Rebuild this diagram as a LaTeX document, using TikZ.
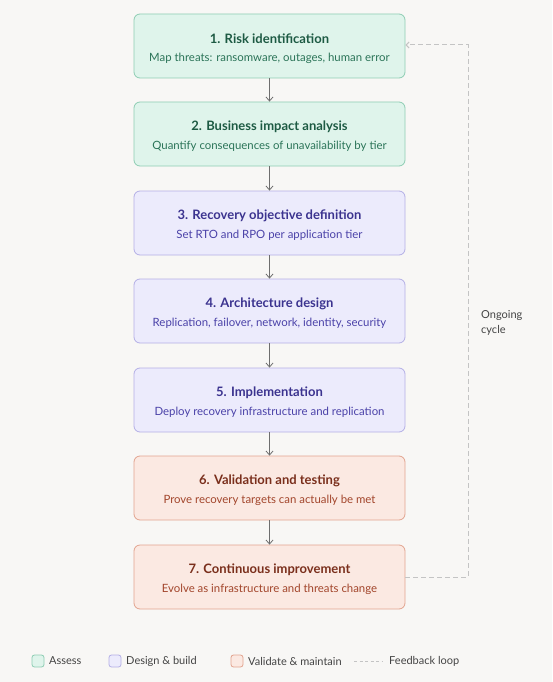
\documentclass[tikz,border=0pt]{standalone}
\usepackage{fontspec}
\setmainfont{Lato}
\usetikzlibrary{arrows.meta}
\definecolor{bg}{HTML}{F8F7F5}
\definecolor{gfill}{HTML}{DFF4EB}
\definecolor{gdraw}{HTML}{8ECDB3}
\definecolor{gtitle}{HTML}{1D5A43}
\definecolor{gsub}{HTML}{2B7458}
\definecolor{pfill}{HTML}{ECEBFC}
\definecolor{pdraw}{HTML}{B4AFE6}
\definecolor{ptitle}{HTML}{3B338F}
\definecolor{psub}{HTML}{4A41A8}
\definecolor{ofill}{HTML}{FBE9E2}
\definecolor{odraw}{HTML}{E2A48F}
\definecolor{otitle}{HTML}{7A2F1C}
\definecolor{osub}{HTML}{A2452B}
\definecolor{arr}{HTML}{6E6E6E}
\definecolor{loop}{HTML}{C4C4C4}
\definecolor{lbl}{HTML}{444444}
\tikzset{
  stepbox/.style={draw, line width=0.8pt, rounded corners=6pt, minimum width=271pt, minimum height=64pt, inner sep=0pt},
  gbox/.style={stepbox, fill=gfill, draw=gdraw},
  pbox/.style={stepbox, fill=pfill, draw=pdraw},
  obox/.style={stepbox, fill=ofill, draw=odraw},
  flow/.style={draw=arr, line width=0.8pt, -{Straight Barb[length=4pt,width=7pt]}},
  fb/.style={draw=loop, line width=1pt, dash pattern=on 5pt off 3pt},
  ttl/.style={font=\fontsize{13}{15}\selectfont\bfseries, inner sep=0pt},
  sub/.style={font=\fontsize{11.4}{13}\selectfont, inner sep=0pt},
  legsq/.style={draw, line width=0.8pt, rounded corners=2.5pt, minimum width=12pt, minimum height=12pt, inner sep=0pt},
  legtxt/.style={font=\fontsize{11}{13}\selectfont, text=lbl, anchor=west, inner sep=0pt}
}
\newcommand{\mkstep}[7]{%
  \node[#3] (#1) at (269.5,#2) {};
  \node[ttl, text=#6] (#1t) at (269.5,#2-7) {#4};
  \node[sub, text=#7] (#1s) at (269.5,#2+12) {#5};
}
\begin{document}
\begin{tikzpicture}[x=1pt,y=-1pt]
\fill[bg] (0,0) rectangle (552,682);
\useasboundingbox (0,0) rectangle (552,682);
\mkstep{s1}{46}{gbox}{1. Risk identification}{Map threats: ransomware, outages, human error}{gtitle}{gsub}
\mkstep{s2}{134}{gbox}{2. Business impact analysis}{Quantify consequences of unavailability by tier}{gtitle}{gsub}
\mkstep{s3}{223}{pbox}{3. Recovery objective definition}{Set RTO and RPO per application tier}{ptitle}{psub}
\mkstep{s4}{311}{pbox}{4. Architecture design}{Replication, failover, network, identity, security}{ptitle}{psub}
\mkstep{s5}{400}{pbox}{5. Implementation}{Deploy recovery infrastructure and replication}{ptitle}{psub}
\mkstep{s6}{488}{obox}{6. Validation and testing}{Prove recovery targets can actually be met}{otitle}{osub}
\mkstep{s7}{577}{obox}{7. Continuous improvement}{Evolve as infrastructure and threats change}{otitle}{osub}
\draw[flow] (s1) -- (s2);
\draw[flow] (s2) -- (s3);
\draw[flow] (s3) -- (s4);
\draw[flow] (s4) -- (s5);
\draw[flow] (s5) -- (s6);
\draw[flow] (s6) -- (s7);
\coordinate (c1) at (468,577);
\coordinate (c2) at (468,45);
\draw[fb, -{Straight Barb[length=3pt,width=6pt]}] (s7.east) -- (c1) -- (c2) -- (s1.east |- c2);
\node[anchor=west, align=left, font=\fontsize{11}{15}\selectfont, text=lbl, inner sep=0pt] (lab) at (481,323) {Ongoing\\cycle};
% legend
\node[legsq, fill=gfill, draw=gdraw] (l1) at (38,661) {};
\node[legtxt] (t1) at (49,661) {Assess};
\node[legsq, fill=pfill, draw=pdraw] (l2) at (115,661) {};
\node[legtxt] (t2) at (126,661) {Design \& build};
\node[legsq, fill=ofill, draw=odraw] (l3) at (237,661) {};
\node[legtxt] (t3) at (237+11,661) {Validate \& maintain};
\coordinate (d1) at (354,661);
\coordinate (d2) at (382,661);
\draw[draw=loop, line width=0.8pt, dash pattern=on 3pt off 2.5pt] (d1) -- (d2);
\node[legtxt] (t4) at (389,661) {Feedback loop};
\end{tikzpicture}
\end{document}
